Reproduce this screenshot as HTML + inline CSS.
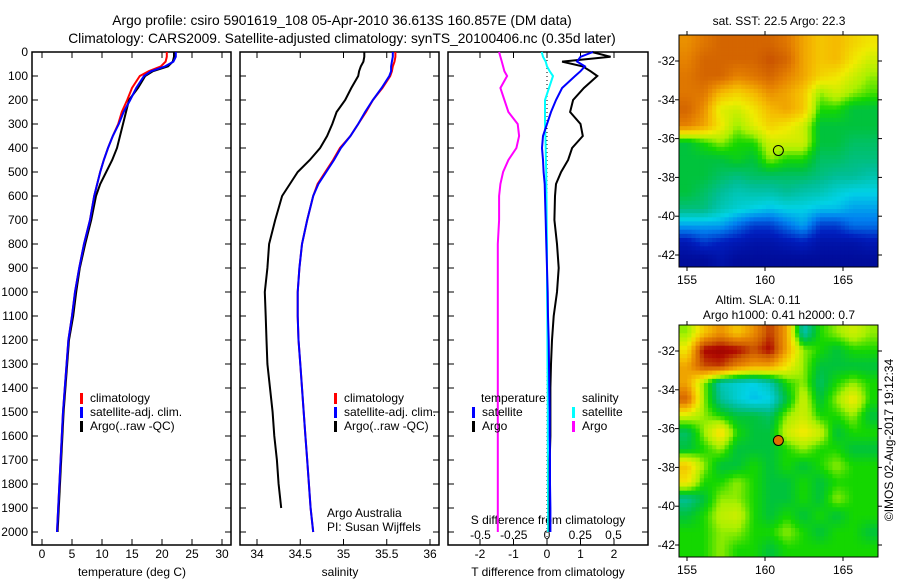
<!DOCTYPE html>
<html><head><meta charset="utf-8"><style>
body{margin:0;background:#fff;}
svg{display:block;font-family:"Liberation Sans",sans-serif;font-size:12px;}
</style></head><body>
<svg id="fig" width="900" height="580" viewBox="0 0 900 580">
<rect width="900" height="580" fill="#fff"/>
<text x="342" y="25" text-anchor="middle" font-size="13.8">Argo profile: csiro 5901619_108 05-Apr-2010 36.613S 160.857E (DM data)</text>
<text x="342" y="43" text-anchor="middle" font-size="13.8">Climatology: CARS2009. Satellite-adjusted climatology: synTS_20100406.nc (0.35d later)</text>
<g id="g"></g>
</svg>
<script>
// ---- data ----
const depths=[0,20,40,60,80,100,150,200,250,300,350,400,450,500,550,600,700,800,900,1000,1100,1200,1300,1400,1500,1600,1700,1800,1900,2000];
const tArgo=[22.0,22.0,21.8,21.0,18.5,17.2,16.0,14.5,14.0,13.5,13.0,12.5,11.7,10.7,9.7,9.0,8.2,7.2,6.3,5.7,5.2,4.5,4.2,3.9,3.6,3.4,3.2,3.0,2.8,2.6];
const tClim=[20.8,20.8,20.6,19.8,17.8,16.3,15.0,14.2,13.3,12.7,11.8,11.0,10.3,9.7,9.2,8.7,8.0,7.0,6.2,5.5,5.0,4.4,4.1,3.8,3.5,3.3,3.1,2.9,2.7,2.5];
const tSat=[22.3,22.3,21.9,20.5,18.2,17.0,15.7,14.7,13.6,12.8,11.8,11.0,10.3,9.7,9.2,8.7,8.0,7.0,6.2,5.5,5.0,4.4,4.1,3.8,3.5,3.3,3.1,2.9,2.7,2.5];
const sArgo=[35.24,35.24,35.23,35.2,35.18,35.17,35.09,35.02,34.92,34.87,34.81,34.73,34.61,34.47,34.38,34.29,34.21,34.14,34.12,34.09,34.1,34.11,34.12,34.15,34.18,34.2,34.23,34.25,34.28,34.3];
const sClim=[35.6,35.6,35.59,35.57,35.56,35.54,35.45,35.34,35.26,35.17,35.08,34.96,34.88,34.79,34.7,34.65,34.58,34.52,34.49,34.47,34.47,34.48,34.5,34.52,34.54,34.56,34.58,34.6,34.62,34.65];
const sSat=[35.57,35.57,35.56,35.55,35.55,35.53,35.44,35.34,35.25,35.17,35.08,34.97,34.89,34.8,34.71,34.65,34.58,34.52,34.49,34.47,34.47,34.48,34.5,34.52,34.54,34.56,34.58,34.6,34.62,34.65];
const dtArgo=[1.34,1.9,0.45,1.07,1.3,1.5,1.1,0.78,0.69,1.0,1.07,0.75,0.63,0.42,0.27,0.24,0.22,0.3,0.35,0.3,0.2,0.15,0.12,0.1,0.1,0.1,0.08,0.08,0.08,0.08];
const dtSat=[1.37,1.0,0.9,1.13,1.0,0.84,0.45,0.27,0.12,0.0,-0.12,-0.15,-0.12,-0.1,-0.07,-0.06,-0.04,-0.02,0.0,0.02,0.03,0.05,0.06,0.07,0.08,0.08,0.09,0.09,0.1,0.1];
const dsArgo=[-0.36,-0.35,-0.34,-0.33,-0.32,-0.3,-0.35,-0.32,-0.29,-0.22,-0.21,-0.23,-0.29,-0.33,-0.35,-0.36,-0.36,-0.37,-0.37,-0.37,-0.37,-0.37,-0.37,-0.37,-0.37,-0.37,-0.37,-0.37,-0.37,-0.37];
const dsSat=[-0.04,-0.03,-0.01,0.0,0.02,0.045,0.015,-0.015,-0.015,-0.015,-0.012,-0.01,-0.008,-0.006,-0.005,-0.004,-0.002,0,0,0,0.002,0.003,0.004,0.005,0.006,0.006,0.007,0.007,0.008,0.008];
const depthTicks=[0,100,200,300,400,500,600,700,800,900,1000,1100,1200,1300,1400,1500,1600,1700,1800,1900,2000];
const tTicks=[0,5,10,15,20,25,30];
const sTicks=[34,34.5,35,35.5,36];
const sTickLabels=["34","34.5","35","35.5","36"];
const dTTicks=[-2,-1,0,1,2];
const dSTicks=[-0.5,-0.25,0,0.25,0.5];
const dSTickLabels=["-0.5","-0.25","0","0.25","0.5"];
const lonTicks=[155,160,165];
const latTicks=[-32,-34,-36,-38,-40,-42];
const argoLon=160.857, argoLat=-36.613;
const sstGrid=[
[.78,.82,.85,.85,.85,.85,.82,.75,.7,.72,.68,.65],
[.8,.85,.85,.85,.85,.88,.85,.75,.7,.72,.65,.6],
[.82,.85,.85,.8,.82,.85,.8,.75,.68,.65,.6,.55],
[.82,.82,.72,.68,.72,.78,.75,.7,.55,.6,.55,.52],
[.85,.78,.62,.6,.65,.72,.75,.7,.5,.5,.45,.45],
[.8,.75,.65,.55,.62,.68,.65,.6,.45,.45,.45,.45],
[.45,.5,.55,.5,.5,.6,.6,.6,.45,.45,.42,.42],
[.45,.45,.45,.48,.45,.55,.5,.5,.42,.42,.4,.4],
[.45,.45,.42,.4,.42,.42,.42,.42,.4,.38,.38,.36],
[.45,.42,.38,.35,.36,.36,.38,.36,.35,.32,.3,.3],
[.4,.4,.35,.32,.3,.28,.3,.3,.28,.28,.25,.25],
[.25,.25,.25,.2,.15,.15,.2,.25,.15,.15,.2,.2],
[.1,.15,.12,.1,.08,.08,.1,.12,.08,.08,.08,.1],
[.05,.05,.08,.05,.05,.05,.05,.05,.05,.05,.05,.05]];
const slaGrid=[
[.55,.7,.78,.7,.78,.9,.75,.35,.5,.55,.6,.55],
[.65,.95,.97,.95,.88,.95,.75,.55,.5,.45,.5,.5],
[.75,.88,.9,.8,.75,.75,.65,.55,.45,.45,.45,.45],
[.75,.55,.35,.32,.3,.35,.5,.55,.42,.5,.55,.5],
[.85,.55,.38,.32,.28,.3,.45,.6,.45,.55,.65,.5],
[.6,.55,.5,.45,.45,.42,.55,.6,.5,.5,.55,.45],
[.42,.55,.68,.5,.45,.45,.6,.65,.6,.45,.5,.5],
[.45,.5,.55,.45,.45,.45,.5,.55,.5,.5,.45,.45],
[.7,.55,.45,.45,.5,.45,.5,.45,.5,.55,.5,.5],
[.65,.5,.5,.55,.5,.45,.45,.5,.45,.5,.5,.5],
[.38,.45,.55,.55,.5,.45,.45,.5,.45,.55,.5,.5],
[.45,.5,.58,.6,.5,.45,.5,.45,.5,.45,.5,.5],
[.5,.5,.55,.55,.5,.5,.55,.5,.45,.5,.5,.45],
[.5,.5,.55,.5,.5,.45,.5,.5,.5,.5,.5,.5]];

// ---- helpers ----
const NS="http://www.w3.org/2000/svg";
const G=document.getElementById('g');
function mk(tag,attrs,parent,txt){const e=document.createElementNS(NS,tag);for(const k in attrs)e.setAttribute(k,attrs[k]);if(txt!==undefined)e.textContent=txt;(parent||G).appendChild(e);return e;}
const yD=d=>52+0.24*d;
const xT=t=>42+6*t;
const xS=s=>257+86.5*(s-34);
const xDT=v=>547+33.5*v;
const xDS=v=>547+133*v;
const PT=52, PB=545;
const panels=[[32,231],[240,439],[448,648]];

panels.forEach((p,i)=>{
  const r=mk('rect',{x:p[0],y:PT,width:p[1]-p[0],height:PB-PT,fill:'none',stroke:'#000','stroke-width':1.5});
  
  
  depthTicks.forEach(d=>{
    const y=yD(d);
    mk('line',{x1:p[0],x2:p[0]+6,y1:y,y2:y,stroke:'#000'});
    mk('line',{x1:p[1]-6,x2:p[1],y1:y,y2:y,stroke:'#000'});
  });
});
depthTicks.forEach(d=>{
  const t=mk('text',{x:28,y:yD(d)+4,'text-anchor':'end'},G,String(d));
  
  
});
function xticks(vals,labels,fx,y){
  vals.forEach((v,i)=>{const x=fx(v);
    mk('line',{x1:x,x2:x,y1:PT,y2:PT+6,stroke:'#000'});
    mk('line',{x1:x,x2:x,y1:PB-6,y2:PB,stroke:'#000'});
    const t=mk('text',{x:x,y:y,'text-anchor':'middle'},G,labels[i]);
    
    
  });
}
xticks(tTicks,tTicks.map(String),xT,558);
xticks(sTicks,sTickLabels,xS,558);
xticks(dTTicks,dTTicks.map(String),xDT,558);
dSTicks.forEach((v,i)=>{const t=mk('text',{x:xDS(v),y:539,'text-anchor':'middle'},G,dSTickLabels[i]);
  
  });
[['temperature (deg C)',132,'temperature-axis-title'],['salinity',340,'salinity-axis-title'],['T difference from climatology',548,'t-diff-axis-title']].forEach(a=>{
  const t=mk('text',{x:a[1],y:576,'text-anchor':'middle'},G,a[0]);
  
  });
{const t=mk('text',{x:548,y:524,'text-anchor':'middle'},G,'S difference from climatology');
}

mk('line',{x1:xDT(0),x2:xDT(0),y1:PT,y2:PB,stroke:'#000','stroke-dasharray':'1,3'});

function line(vals,fx,color,name,n){
  const pts=vals.slice(0,n||vals.length).map((v,i)=>fx(v).toFixed(1)+','+yD(depths[i]).toFixed(1)).join(' ');
  const e=mk('polyline',{points:pts,fill:'none',stroke:color,'stroke-width':2});
  
  
}
line(tArgo,xT,'#000','temp-argo-line');
line(tClim,xT,'#f00','temp-climatology-line');
line(tSat,xT,'#00f','temp-satellite-line');
line(sArgo,xS,'#000','sal-argo-line',29);
line(sClim,xS,'#f00','sal-climatology-line');
line(sSat,xS,'#00f','sal-satellite-line');
line(dsArgo,xDS,'#f0f','sdiff-argo-line');
line(dsSat,xDS,'#0ff','sdiff-satellite-line');
line(dtArgo,xDT,'#000','tdiff-argo-line');
line(dtSat,xDT,'#00f','tdiff-satellite-line');

function leg(x,y,color,label,name){
  mk('rect',{x:x,y:y-9,width:3,height:11,fill:color});
  const t=mk('text',{x:x+10,y:y},G,label);
  
  
}
leg(80,402,'#f00','climatology','legend-climatology');
leg(80,416,'#00f','satellite-adj. clim.','legend-satellite-adj');
leg(80,430,'#000','Argo(..raw -QC)','legend-argo');
leg(334,402,'#f00','climatology','legend-climatology-2');
leg(334,416,'#00f','satellite-adj. clim.','legend-satellite-adj-2');
leg(334,430,'#000','Argo(..raw -QC)','legend-argo-2');
{const t=mk('text',{x:481,y:402},G,'temperature');}
{const t=mk('text',{x:582,y:402},G,'salinity');}
leg(472,416,'#00f','satellite','legend-temp-satellite');
leg(472,430,'#000','Argo','legend-temp-argo');
leg(572,416,'#0ff','satellite','legend-sal-satellite');
leg(572,430,'#f0f','Argo','legend-sal-argo');
{const t=mk('text',{x:327,y:517},G,'Argo Australia');}
{const t=mk('text',{x:327,y:531},G,'PI: Susan Wijffels');}

const stops=[[0,[0,0,130]],[0.12,[0,30,190]],[0.22,[0,130,240]],[0.3,[0,210,230]],[0.38,[0,190,150]],[0.45,[0,195,60]],[0.5,[20,215,0]],[0.56,[170,240,0]],[0.64,[240,235,0]],[0.72,[245,185,0]],[0.8,[230,130,0]],[0.87,[205,90,0]],[0.94,[175,10,0]],[1,[140,0,0]]];
function cmap(v){
  v=Math.max(0,Math.min(1,v));
  for(let i=1;i<stops.length;i++){if(v<=stops[i][0]){const a=stops[i-1],b=stops[i];const f=(v-a[0])/(b[0]-a[0]);
    return 'rgb('+a[1].map((c,k)=>Math.round(c+(b[1][k]-c)*f)).join(',')+')';}}
  return 'rgb(140,0,0)';
}
const MX0=679,MX1=878;
const lonX=l=>687+15.6*(l-155);
function sample(grid,r,c){
  const R=grid.length-1,C=grid[0].length-1;
  r=Math.max(0,Math.min(R,r));c=Math.max(0,Math.min(C,c));
  const r0=Math.floor(r),c0=Math.floor(c),r1=Math.min(R,r0+1),c1=Math.min(C,c0+1),fr=r-r0,fc=c-c0;
  return grid[r0][c0]*(1-fr)*(1-fc)+grid[r0][c1]*(1-fr)*fc+grid[r1][c0]*fr*(1-fc)+grid[r1][c1]*fr*fc;
}
function map(grid,top,name,filled){
  const bot=top+232;
  const latY=la=>top+26+19.4*(-32-la);
  const g=mk('g',{});
  
  
  const rows=grid.length,cols=grid[0].length,sub=4;
  const nR=rows*sub,nC=cols*sub;
  const cw=(MX1-MX0)/nC,ch=(bot-top)/nR;
  for(let i=0;i<nR;i++)for(let j=0;j<nC;j++){
    const v=sample(grid,(i+0.5)/sub-0.5,(j+0.5)/sub-0.5);
    const c=mk('rect',{x:(MX0+j*cw).toFixed(2),y:(top+i*ch).toFixed(2),width:(cw+0.4).toFixed(2),height:(ch+0.4).toFixed(2),fill:cmap(v)},g);
    
    
  }
  mk('rect',{x:MX0,y:top,width:MX1-MX0,height:bot-top,fill:'none',stroke:'#000'},g);
  lonTicks.forEach(l=>{const x=lonX(l);
    mk('line',{x1:x,x2:x,y1:top-4,y2:top,stroke:'#000'},g);
    mk('line',{x1:x,x2:x,y1:bot,y2:bot+4,stroke:'#000'},g);
    mk('text',{x:x,y:bot+17,'text-anchor':'middle'},g,String(l));});
  latTicks.forEach(la=>{const y=latY(la);
    mk('line',{x1:MX0-4,x2:MX0,y1:y,y2:y,stroke:'#000'},g);
    mk('line',{x1:MX1,x2:MX1+4,y1:y,y2:y,stroke:'#000'},g);
    mk('text',{x:675,y:y+4,'text-anchor':'end'},g,String(la));});
  const m=mk('circle',{cx:lonX(argoLon),cy:latY(argoLat),r:5,fill:filled?'#e07000':'none',stroke:'#000'},g);
  
  
}
map(sstGrid,35,'sst-map',false);
map(slaGrid,325,'sla-map',true);
{const t=mk('text',{x:779,y:25,'text-anchor':'middle'},G,'sat. SST: 22.5 Argo: 22.3');}
{const t=mk('text',{x:758,y:304,'text-anchor':'middle'},G,'Altim. SLA: 0.11');}
{const t=mk('text',{x:779,y:319,'text-anchor':'middle'},G,'Argo h1000: 0.41 h2000: 0.7');}
{const t=mk('text',{x:0,y:0,'text-anchor':'middle',transform:'translate(893,440) rotate(-90)'},G,'©IMOS 02-Aug-2017 19:12:34');}
</script>
</body></html>
